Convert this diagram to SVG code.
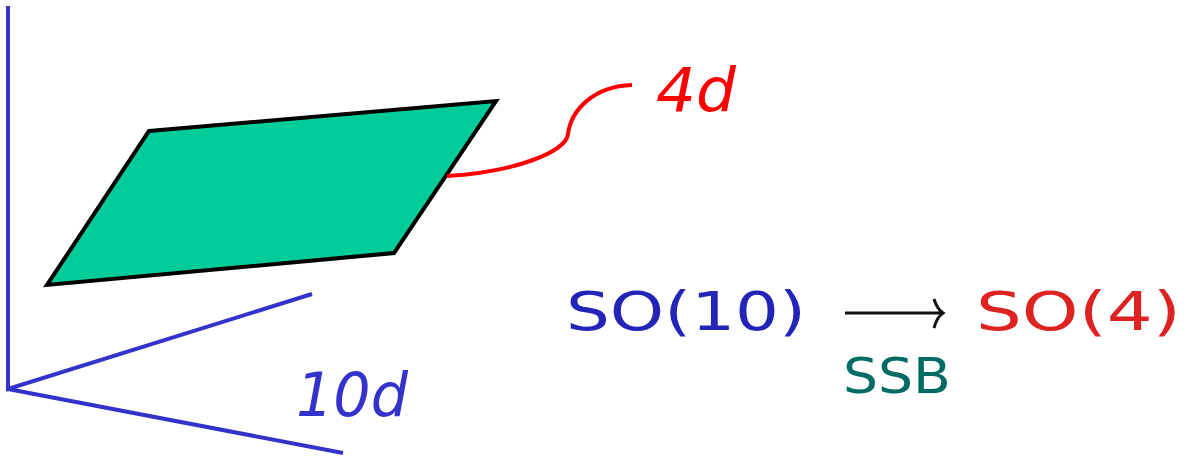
<svg xmlns="http://www.w3.org/2000/svg" width="1188" height="457" viewBox="0 0 1188 457">
<style>
.axis{stroke:#3333cc;stroke-width:4;fill:none;stroke-linecap:butt}
.it{font-family:"DejaVu Sans",sans-serif;font-style:italic}
.math{font-family:"DejaVu Sans",sans-serif}
</style>
<rect width="1188" height="457" fill="#fff"/>
<g id="axes">
<path class="axis" d="M8,6 L8,389 L312,294 M8,389 L343,453"/>
<text class="it" x="296" y="416" font-size="60" fill="#3333cc" textLength="112" lengthAdjust="spacingAndGlyphs">10d</text>
</g>
<g id="plane">
<polygon points="149,131 496,101 394,253 47,285" fill="#00cc99" stroke="#000" stroke-width="4" stroke-linejoin="miter"/>
</g>
<g id="connectors">
<path d="M447,176 C515,172 566,152 568,134 C571,110 594,86 632,85" fill="none" stroke="#ff0000" stroke-width="4"/>
</g>
<g id="label4d">
<text class="it" x="656" y="111" font-size="60" fill="#ff0000" textLength="80" lengthAdjust="spacingAndGlyphs">4d</text>
</g>
<g id="so10">
<text class="math" x="566" y="330" font-size="53" fill="#2424b8" textLength="240" lengthAdjust="spacingAndGlyphs">SO(10)</text>
</g>
<g id="arrow">
<path d="M845,313 L943,313 M934,299 Q937,309 943,313 Q937,317 934,328" fill="none" stroke="#111" stroke-width="3"/>
</g>
<g id="so4">
<text class="math" x="976" y="330" font-size="53" fill="#dd2222" textLength="205" lengthAdjust="spacingAndGlyphs">SO(4)</text>
</g>
<g id="ssb">
<text class="math" x="843" y="393" font-size="50" fill="#006b63" textLength="108" lengthAdjust="spacingAndGlyphs">SSB</text>
</g>
</svg>
